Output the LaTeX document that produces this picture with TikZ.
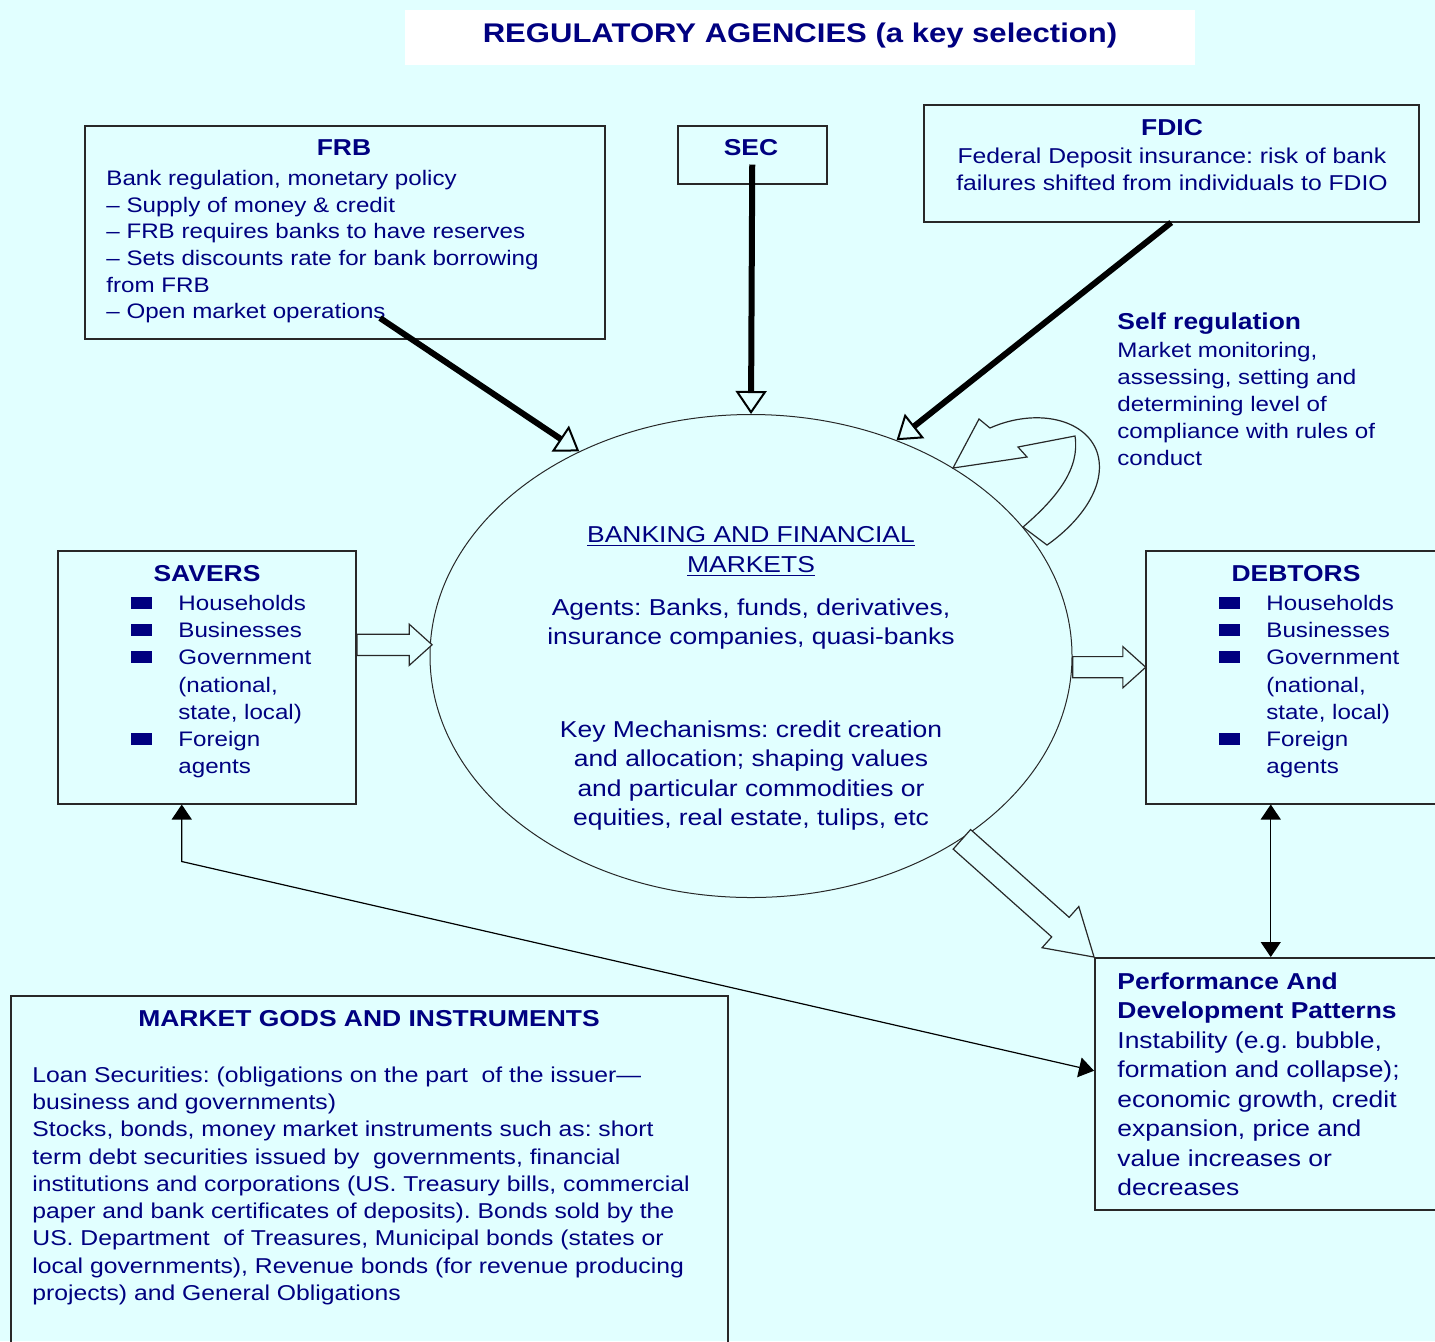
\documentclass[tikz,border=0pt]{standalone}
\usepackage{fontspec}
\setmainfont{Liberation Sans}[FakeStretch=1.15]
\usetikzlibrary{positioning,arrows.meta,shapes.geometric,shapes.arrows,calc}
\definecolor{fond}{RGB}{225,255,255}
\definecolor{encre}{RGB}{0,0,128}
\definecolor{trait}{RGB}{40,40,40}
\newcommand{\corps}{\fontsize{10.5pt}{13.5pt}\selectfont}
\newcommand{\grand}{\fontsize{11.5pt}{14.75pt}\selectfont}
\newcommand{\entete}{\fontsize{11.5pt}{14pt}\selectfont\bfseries}
\newcommand{\puce}{\textcolor{encre}{\rule[0.8pt]{10.5pt}{6pt}}}
\frenchspacing

\begin{document}
\begin{tikzpicture}[x=0.5pt, y=-0.5pt,
    boite/.style={draw=trait, line width=0.75pt, anchor=north west, inner sep=0pt},
    texte/.style={text=encre, inner sep=0pt, font=\corps},
    titre/.style={text=encre, inner sep=0pt, font=\entete, anchor=base},
    agence/.style={line width=3pt, -{Triangle[length=11.5pt, width=15.5pt, line width=1pt, fill=fond]}},
    lien/.style={line width=0.6pt, {Triangle[length=7.5pt, width=10pt]}-{Triangle[length=7.5pt, width=10pt]}},
    bloc/.style={draw=trait, fill=fond, line width=0.6pt, single arrow, sloped, pos=0, anchor=tail,
        inner xsep=0pt, inner ysep=5pt, single arrow head extend=5pt, single arrow tip angle=84, minimum width=0pt}]

    % Cadre de la page (pixels de l'original)
    \useasboundingbox (0,0) rectangle (1435,1341);
    \fill[fond] (0,0) rectangle (1435,1341);

    % =========================================================================
    % TITRE
    % =========================================================================
    \node[fill=white, minimum width=395pt, minimum height=27.5pt, anchor=north west, inner sep=0pt] (head) at (405,10) {};
    \node[titre, font=\fontsize{13.5pt}{16pt}\selectfont\bfseries] (headtxt) at (800,42.7) {REGULATORY AGENCIES (a key selection)};

    % =========================================================================
    % AGENCES
    % =========================================================================
    \node[boite, minimum width=260pt, minimum height=106.5pt] (frb) at (84,125) {};
    \node[titre] (frbtitle) at (344,155) {FRB};
    \node[texte, anchor=north west, font=\fontsize{10.5pt}{13.35pt}\selectfont] (frbtxt) at (106,166.3) {\begin{tabular}{@{}l@{}}
        Bank regulation, monetary policy\\
        -- Supply of money \& credit\\
        -- FRB requires banks to have reserves\\
        -- Sets discounts rate for bank borrowing\\
        from FRB\\
        -- Open market operations
    \end{tabular}};

    \node[boite, minimum width=74.5pt, minimum height=29pt] (sec) at (677,125) {};
    \node[titre] (sectitle) at (751,155) {SEC};

    \node[boite, minimum width=247.5pt, minimum height=58.5pt] (fdic) at (923,104) {};
    \node[titre] (fdictitle) at (1172,135) {FDIC};
    \node[texte, anchor=north, font=\fontsize{10.75pt}{13.35pt}\selectfont] (fdictxt) at (1172,144.6) {\begin{tabular}{@{}c@{}}
        Federal Deposit insurance: risk of bank\\
        failures shifted from individuals to FDIO
    \end{tabular}};

    % Auto-regulation
    \node[titre, anchor=base west] (selftitle) at (1117,329) {Self regulation};
    \node[texte, anchor=north west] (selftxt) at (1117,338.6) {\begin{tabular}{@{}l@{}}
        Market monitoring,\\
        assessing, setting and\\
        determining level of\\
        compliance with rules of\\
        conduct
    \end{tabular}};

    % =========================================================================
    % MARCHES
    % =========================================================================
    \node[draw=trait, ellipse, line width=0.5pt, minimum width=321pt, minimum height=241.5pt, inner sep=0pt] (market) at (751,656) {};
    \node[texte, anchor=north, font=\grand] (marketname) at (751,521.7) {\begin{tabular}{@{}c@{}}
        \underline{BANKING AND FINANCIAL}\\
        \underline{MARKETS}
    \end{tabular}};
    \node[texte, anchor=north, font=\grand] (agents) at (751,594.3) {\begin{tabular}{@{}c@{}}
        Agents: Banks, funds, derivatives,\\
        insurance companies, quasi-banks
    \end{tabular}};
    \node[texte, anchor=north, font=\grand] (mechanisms) at (751,716) {\begin{tabular}{@{}c@{}}
        Key Mechanisms: credit creation\\
        and allocation; shaping values\\
        and particular commodities or\\
        equities, real estate, tulips, etc
    \end{tabular}};

    % =========================================================================
    % EPARGNANTS / DEBITEURS
    % =========================================================================
    \node[boite, minimum width=149pt, minimum height=126.5pt] (savers) at (57,550) {};
    \node[titre] (saverstitle) at (207,581) {SAVERS};
    \node[texte, anchor=north west, font=\fontsize{10.5pt}{13.6pt}\selectfont] (saverslist) at (131,591) {\begin{tabular}{@{}l@{\hspace{13pt}}l@{}}
        \puce & Households\\
        \puce & Businesses\\
        \puce & Government\\
              & (national,\\
              & state, local)\\
        \puce & Foreign\\
              & agents
    \end{tabular}};

    \node[boite, minimum width=147.5pt, minimum height=126.5pt] (debtors) at (1145,550) {};
    \node[titre] (debtorstitle) at (1296,581) {DEBTORS};
    \node[texte, anchor=north west, font=\fontsize{10.5pt}{13.6pt}\selectfont] (debtorslist) at (1219,591) {\begin{tabular}{@{}l@{\hspace{13pt}}l@{}}
        \puce & Households\\
        \puce & Businesses\\
        \puce & Government\\
              & (national,\\
              & state, local)\\
        \puce & Foreign\\
              & agents
    \end{tabular}};

    % =========================================================================
    % PERFORMANCE ET INSTRUMENTS
    % =========================================================================
    \node[boite, minimum width=171.5pt, minimum height=126pt] (perf) at (1094,957) {};
    \node[texte, anchor=north west, font=\grand] (perftxt) at (1117,968.4) {\begin{tabular}{@{}l@{}}
        \textbf{Performance And}\\
        \textbf{Development Patterns}\\
        Instability (e.g. bubble,\\
        formation and collapse);\\
        economic growth, credit\\
        expansion, price and\\
        value increases or\\
        decreases
    \end{tabular}};

    \node[boite, minimum width=358.5pt, minimum height=180pt] (gods) at (10,995) {};
    \node[titre] (godstitle) at (369,1026) {MARKET GODS AND INSTRUMENTS};
    \node[texte, anchor=north west, font=\fontsize{10.75pt}{13.65pt}\selectfont] (godstxt) at (32,1062.6) {\begin{tabular}{@{}l@{}}
        Loan Securities: (obligations on the part\ \ of the issuer---\\
        business and governments)\\
        Stocks, bonds, money market instruments such as: short\\
        term debt securities issued by\ \ governments, financial\\
        institutions and corporations (US. Treasury bills, commercial\\
        paper and bank certificates of deposits). Bonds sold by the\\
        US. Department\ \ of Treasures, Municipal bonds (states or\\
        local governments), Revenue bonds (for revenue producing\\
        projects) and General Obligations
    \end{tabular}};

    % =========================================================================
    % FLECHES
    % =========================================================================
    \coordinate (frbout) at (380,318);
    \draw[agence] (frbout) -- (market.130);
    \draw[agence] ([yshift=10pt]sec.south) -- (market.north);
    \draw[agence] (fdic.south) -- (market.56);

    % Flux creux
    \path (savers.east |- market.178) -- node[bloc, minimum height=37.5pt] (inflow) {} (market.178);
    \path (market.-2) -- node[bloc, minimum height=36.5pt] (outflow) {} (debtors.west |- market.-2);
    \path (market.-41) -- node[bloc, inner ysep=6.25pt, single arrow head extend=7.25pt,
        single arrow tip angle=63, minimum height=88.5pt] (effect) {} (perf.north west);

    % Liens fins
    \draw[lien] ([xshift=-12.5pt]savers.south) -- ++(0,57) -- ([yshift=6.5pt]perf.west);
    \draw[lien] ([xshift=-11.25pt]debtors.south) -- ([xshift=-11.25pt]debtors.south |- perf.north);

    % Boucle d'auto-regulation
    \draw[draw=trait, fill=fond, line width=0.6pt] (953,468) -- (979,419) -- (990,428)
        .. controls (1035,408) and (1085,418) .. (1097,452)
        .. controls (1108,485) and (1080,522) .. (1047,545)
        -- (1023,527)
        .. controls (1058,497) and (1080,468) .. (1075,436)
        -- (1018,447) -- (1027,457) -- cycle;
\end{tikzpicture}
\end{document}
